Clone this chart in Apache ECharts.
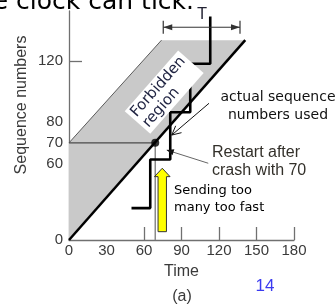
<!DOCTYPE html>
<html><head><meta charset="utf-8">
<script src="https://cdn.jsdelivr.net/npm/echarts@6/dist/echarts.min.js"></script>
<style>html,body{margin:0;padding:0;background:#fff}#c{width:335px;height:304px}</style>
</head><body><div id="c"></div>
<script>
// ---- data ----
const xTickLabels = [0, 30, 60, 90, 120, 150, 180];
const xTickMarks = [60, 90, 120, 150, 180];
const yTickLabels = ['0', '60', '70', '80', '120'];
const yTickValues = [0, 55, 70, 85, 129];
const yTickMarks = [55, 129];
const clockLine = [[0, 0], [141, 144]];
const forbiddenEdge = [[0, 70], [74, 144]];
const forbiddenRegion = [[0, 0], [141, 144], [74, 144], [0, 70]];
const restartPoint = [69, 70];
const actualSeq = [[50, 23], [65, 58], [81, 92], [97, 127], [113, 161]];
const fastArrow = [74.6, 6, 51.7];          // time, from seq, to seq
const tSpan = [75.4, 136.8, 153.3];          // from time, to time, at seq
const actualPointer = [[112, 98.5], [82.2, 75.6]];
const restartPointer = [[111.4, 55.3], [78.2, 64.8]];

const chart = echarts.init(document.getElementById('c'), null, {renderer: 'canvas'});
const AX = '#707070';
const LBL = '#3a3a3a';
const arial = '"Liberation Sans", Arial, sans-serif';
const dejavu = '"DejaVu Sans", Verdana, sans-serif';

function headPts(from, to, len, hw) {
  const dx = to[0] - from[0], dy = to[1] - from[1];
  const L = Math.hypot(dx, dy), ux = dx / L, uy = dy / L;
  const bx = to[0] - ux * len, by = to[1] - uy * len;
  return [[bx - uy * hw, by + ux * hw], to, [bx + uy * hw, by - ux * hw]];
}

chart.setOption({
  animation: false,
  grid: {left: 69, right: 41, top: 11, bottom: 64, containLabel: false},
  xAxis: {
    type: 'value', min: 0, max: 180, interval: 30,
    name: 'Time', nameLocation: 'middle', nameGap: 24,
    nameTextStyle: {fontFamily: arial, fontSize: 16, color: LBL},
    axisLine: {show: true, lineStyle: {color: AX, width: 1.3}},
    axisTick: {show: true, inside: true, length: 13, customValues: xTickMarks, lineStyle: {color: AX, width: 1.3}},
    axisLabel: {fontFamily: arial, fontSize: 15, color: LBL, margin: 3,
      customValues: xTickLabels},
    splitLine: {show: false}
  },
  yAxis: {
    type: 'value', min: 0, max: 165,
    axisLine: {show: true, lineStyle: {color: AX, width: 1.3}},
    axisTick: {show: true, inside: true, length: 13, customValues: yTickMarks, lineStyle: {color: AX, width: 1.3}},
    axisLabel: {fontFamily: arial, fontSize: 15, color: LBL, margin: 6,
      customValues: yTickValues,
      formatter: v => { const i = yTickValues.indexOf(v); return i >= 0 ? yTickLabels[i] : ''; }},
    splitLine: {show: false}
  },
  series: [
    {
      type: 'custom', z: 1, silent: true, data: [[0, 0]],
      renderItem: (p, api) => ({
        type: 'polygon',
        shape: {points: forbiddenRegion.map(d => api.coord(d))},
        style: {fill: '#c9c9c9'}
      })
    },
    {type: 'line', z: 2, data: forbiddenEdge, symbol: 'none', lineStyle: {color: '#5a5a5a', width: 1}},
    {type: 'line', z: 2, data: [[0, restartPoint[1]], restartPoint], symbol: 'none', lineStyle: {color: '#4a4a4a', width: 1.2}},
    {type: 'line', z: 2, data: [restartPoint, [restartPoint[0], 0]], symbol: 'none', lineStyle: {color: '#8a8a8a', width: 1.5}},
    {type: 'line', z: 3, data: clockLine, symbol: 'none', lineStyle: {color: '#000', width: 2.5}},
    {type: 'line', z: 4, data: actualSeq, step: 'end', symbol: 'none', lineStyle: {color: '#000', width: 2.6}},
    {type: 'scatter', z: 5, data: [restartPoint], symbolSize: 8, itemStyle: {color: '#000'}},
    {
      type: 'custom', z: 6, silent: true, data: [[0, 0]],
      renderItem: (p, api) => {
        const children = [];
        // yellow arrow
        const b = api.coord([fastArrow[0], fastArrow[1]]);
        const t = api.coord([fastArrow[0], fastArrow[2]]);
        const base = t[1] + 8.4, x = b[0];
        children.push({type: 'polygon', shape: {points: [
          [x - 4.2, b[1]], [x - 4.2, base], [x - 7.8, base], [x, t[1]],
          [x + 7.8, base], [x + 4.2, base], [x + 4.2, b[1]]]},
          style: {fill: '#ffff00', stroke: '#333', lineWidth: 1}});
        // T dimension
        const l = api.coord([tSpan[0], tSpan[2]]), r = api.coord([tSpan[1], tSpan[2]]);
        children.push({type: 'line', shape: {x1: l[0], y1: l[1], x2: r[0], y2: r[1]}, style: {stroke: '#333', lineWidth: 1}});
        children.push({type: 'line', shape: {x1: l[0], y1: l[1] - 6.5, x2: l[0], y2: l[1] + 6.5}, style: {stroke: '#333', lineWidth: 1.2}});
        children.push({type: 'line', shape: {x1: r[0], y1: r[1] - 6.5, x2: r[0], y2: r[1] + 6.5}, style: {stroke: '#333', lineWidth: 1.2}});
        children.push({type: 'polygon', shape: {points: headPts(r, l, 9, 3)}, style: {fill: '#333'}});
        children.push({type: 'polygon', shape: {points: headPts(l, r, 9, 3)}, style: {fill: '#333'}});
        // actual sequence pointer (open head)
        const a1 = api.coord(actualPointer[0]), a2 = api.coord(actualPointer[1]);
        children.push({type: 'line', shape: {x1: a1[0], y1: a1[1], x2: a2[0], y2: a2[1]}, style: {stroke: '#111', lineWidth: 1}});
        children.push({type: 'polyline', shape: {points: headPts(a1, a2, 9, 4.5)}, style: {stroke: '#111', lineWidth: 1, fill: null}});
        // restart pointer (filled head)
        const r1 = api.coord(restartPointer[0]), r2 = api.coord(restartPointer[1]);
        children.push({type: 'line', shape: {x1: r1[0], y1: r1[1], x2: r2[0], y2: r2[1]}, style: {stroke: '#666', lineWidth: 1}});
        children.push({type: 'polygon', shape: {points: headPts(r1, r2, 7, 3.2)}, style: {fill: '#111'}});
        return {type: 'group', children};
      }
    }
  ],
  graphic: [
    {type: 'text', x: 194, y: 2, style: {text: 'the clock can tick.', font: '25px ' + dejavu, fill: '#000', align: 'right', verticalAlign: 'middle'}},
    {type: 'text', x: 202, y: 15, style: {text: 'T', font: '15px ' + dejavu, fill: '#223', align: 'center', verticalAlign: 'middle'}},
    {type: 'text', x: 137.5, y: 122.5, rotation: 0.85, z: 10,
      style: {text: 'Forbidden\nregion', font: '15px ' + dejavu, fill: '#1e2240', align: 'left', verticalAlign: 'middle', lineHeight: 16,
        backgroundColor: '#fff', padding: [1, 3, 1, 3]}},
    {type: 'text', x: 278, y: 106, style: {text: 'actual sequence\nnumbers used', font: '14px ' + dejavu, fill: '#111', align: 'center', verticalAlign: 'middle', lineHeight: 18}},
    {type: 'text', x: 212, y: 161.5, style: {text: 'Restart after\ncrash with 70', font: '16px ' + arial, fill: '#33302a', align: 'left', verticalAlign: 'middle', lineHeight: 18.4}},
    {type: 'text', x: 174, y: 199.3, style: {text: 'Sending too\nmany too fast', font: '13px ' + dejavu, fill: '#000', align: 'left', verticalAlign: 'middle', lineHeight: 16.7}},
    {type: 'text', x: 21.5, y: 105, rotation: Math.PI / 2, style: {text: 'Sequence numbers', font: '16px ' + arial, fill: LBL, align: 'center', verticalAlign: 'middle'}},
    {type: 'text', x: 182, y: 296.7, style: {text: '(a)', font: '16px ' + arial, fill: LBL, align: 'center', verticalAlign: 'middle'}},
    {type: 'text', x: 265, y: 286.7, style: {text: '14', font: '17px ' + arial, fill: '#3a3af0', align: 'center', verticalAlign: 'middle'}}
  ]
});
</script>
</body></html>
